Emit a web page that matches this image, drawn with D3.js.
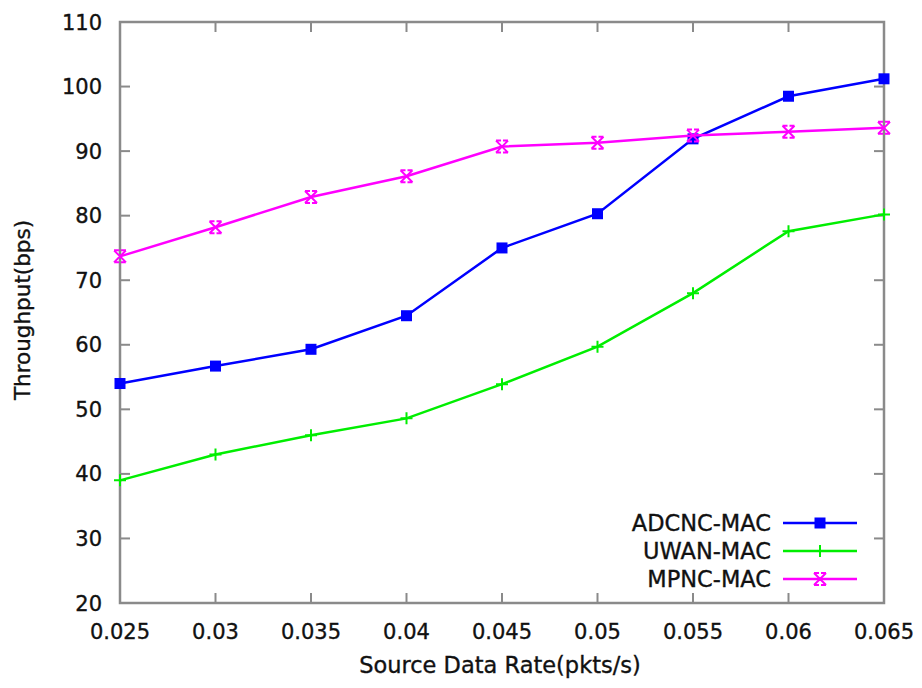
<!DOCTYPE html>
<html>
<head>
<meta charset="utf-8">
<script src="https://cdn.jsdelivr.net/npm/d3@7"></script>
<style>
  body { margin: 0; background: #fff; }
  svg text { font-family: "DejaVu Sans", sans-serif; fill: #111; stroke: #111; stroke-width: 0.35px; }
</style>
</head>
<body>
<svg id="chart"></svg>
<script>
// source data rate (pkts/s)
var rates = [0.025, 0.03, 0.035, 0.04, 0.045, 0.05, 0.055, 0.06, 0.065];
var adcnc = [54.0, 56.7, 59.3, 64.5, 75.0, 80.3, 91.9, 98.5, 101.2];
var uwan  = [39.0, 43.0, 46.0, 48.6, 53.9, 59.7, 68.0, 77.6, 80.2];
var mpnc  = [73.7, 78.2, 82.9, 86.1, 90.7, 91.3, 92.4, 93.0, 93.6];
var seriesNames = ["ADCNC-MAC", "UWAN-MAC", "MPNC-MAC"];
var yTicks = [20, 30, 40, 50, 60, 70, 80, 90, 100, 110];

var width = 922, height = 688;
var margin = {top: 22, right: 38, bottom: 85, left: 120};

var svg = d3.select("#chart")
    .attr("width", width)
    .attr("height", height);

var x = d3.scaleLinear()
    .domain([0.025, 0.065])
    .range([margin.left, width - margin.right]);

var y = d3.scaleLinear()
    .domain([20, 110])
    .range([height - margin.bottom, margin.top]);

var series = [
  {name: seriesNames[0], values: adcnc, color: "#0000ff", mark: "square"},
  {name: seriesNames[1], values: uwan,  color: "#00ee00", mark: "plus"},
  {name: seriesNames[2], values: mpnc,  color: "#ff00ff", mark: "star"}
];

var tickLen = 10;
var frameColor = "#8a8a8a";

// ticks, inward on all four sides (gnuplot mirror style)
var ticks = svg.append("g");
yTicks.forEach(function(v) {
  ticks.append("line")
      .attr("x1", x.range()[0]).attr("x2", x.range()[0] + tickLen)
      .attr("y1", y(v)).attr("y2", y(v));
  ticks.append("line")
      .attr("x1", x.range()[1]).attr("x2", x.range()[1] - tickLen)
      .attr("y1", y(v)).attr("y2", y(v));
});
rates.forEach(function(r) {
  ticks.append("line")
      .attr("x1", x(r)).attr("x2", x(r))
      .attr("y1", y.range()[0]).attr("y2", y.range()[0] - tickLen);
  ticks.append("line")
      .attr("x1", x(r)).attr("x2", x(r))
      .attr("y1", y.range()[1]).attr("y2", y.range()[1] + tickLen);
});
ticks.selectAll("line")
    .attr("stroke", frameColor)
    .attr("stroke-width", 2);

// frame
svg.append("rect")
    .attr("x", x.range()[0])
    .attr("y", y.range()[1])
    .attr("width", x.range()[1] - x.range()[0])
    .attr("height", y.range()[0] - y.range()[1])
    .attr("fill", "none")
    .attr("stroke", frameColor)
    .attr("stroke-width", 2.5);

// tick labels
svg.append("g").selectAll("text")
  .data(yTicks)
  .join("text")
    .attr("x", x.range()[0] - 18)
    .attr("y", function(d) { return y(d); })
    .attr("dy", "0.36em")
    .attr("text-anchor", "end")
    .style("font-size", "21px")
    .text(function(d) { return d; });

svg.append("g").selectAll("text")
  .data(rates)
  .join("text")
    .attr("x", function(d) { return x(d); })
    .attr("y", y.range()[0] + 28)
    .attr("dy", "0.36em")
    .attr("text-anchor", "middle")
    .style("font-size", "21px")
    .text(function(d) { return String(d); });

// axis titles
svg.append("text")
    .attr("x", 500)
    .attr("y", 665)
    .attr("dy", "0.36em")
    .attr("text-anchor", "middle")
    .style("font-size", "22.5px")
    .text("Source Data Rate(pkts/s)");

svg.append("text")
    .attr("transform", "translate(22,310) rotate(-90)")
    .attr("dy", "0.36em")
    .attr("text-anchor", "middle")
    .style("font-size", "21.5px")
    .text("Throughput(bps)");

function drawMark(g, type, color) {
  if (type === "square") {
    g.append("rect")
        .attr("x", -5.5).attr("y", -5.5)
        .attr("width", 11).attr("height", 11)
        .attr("fill", color);
  } else if (type === "plus") {
    g.append("path")
        .attr("d", "M-6,0H6M0,-6V6")
        .attr("stroke", color).attr("stroke-width", 2);
  } else {
    g.append("path")
        .attr("d", "M-6,-6L6,6M-6,6L6,-6M-6,-6H-1M1,-6H6M-6,6H-1M1,6H6")
        .attr("stroke", color).attr("stroke-width", 2);
  }
}

var line = d3.line()
    .x(function(d, i) { return x(rates[i]); })
    .y(function(d) { return y(d); });

series.forEach(function(s) {
  svg.append("path")
      .datum(s.values)
      .attr("fill", "none")
      .attr("stroke", s.color)
      .attr("stroke-width", 2.5)
      .attr("d", line);

  s.values.forEach(function(v, i) {
    var g = svg.append("g")
        .attr("transform", "translate(" + x(rates[i]) + "," + y(v) + ")");
    drawMark(g, s.mark, s.color);
  });
});

// legend
var legend = svg.append("g");
series.forEach(function(s, i) {
  var ly = 523 + i * 28;
  legend.append("text")
      .attr("x", 771)
      .attr("y", ly)
      .attr("dy", "0.36em")
      .attr("text-anchor", "end")
      .style("font-size", "22.5px")
      .text(s.name);
  legend.append("line")
      .attr("x1", 783).attr("x2", 857)
      .attr("y1", ly).attr("y2", ly)
      .attr("stroke", s.color)
      .attr("stroke-width", 2.5);
  drawMark(legend.append("g").attr("transform", "translate(820," + ly + ")"), s.mark, s.color);
});
</script>
</body>
</html>
